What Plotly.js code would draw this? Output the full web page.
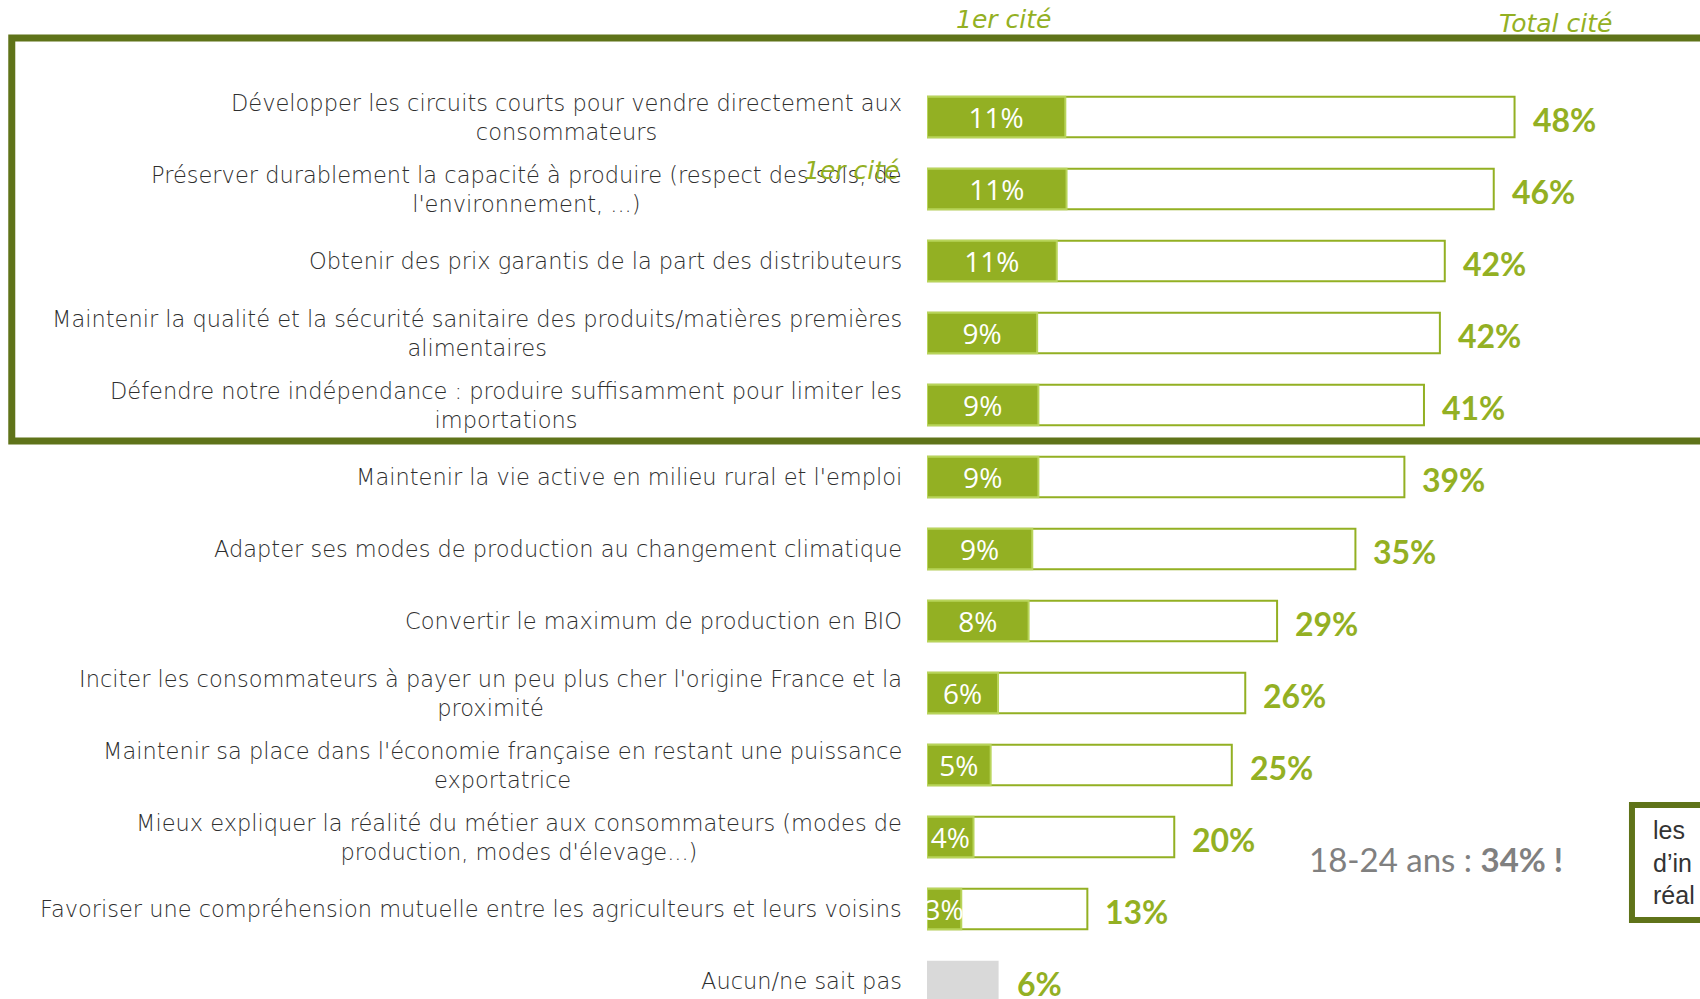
<!DOCTYPE html>
<html><head><meta charset="utf-8">
<script src="https://cdn.plot.ly/plotly-3.0.1.min.js"></script>
<style>html,body{margin:0;padding:0;background:#fff;overflow:hidden}#chart{width:1700px;height:999px}</style>
</head><body><div id="chart"></div>
<script>
const categories = [
  "Développer les circuits courts pour vendre directement aux<br>consommateurs",
  "Préserver durablement la capacité à produire (respect des sols, de<br>l'environnement, ...)",
  "Obtenir des prix garantis de la part des distributeurs",
  "Maintenir la qualité et la sécurité sanitaire des produits/matières premières<br>alimentaires",
  "Défendre notre indépendance : produire suffisamment pour limiter les<br>importations",
  "Maintenir la vie active en milieu rural et l'emploi",
  "Adapter ses modes de production au changement climatique",
  "Convertir le maximum de production en BIO",
  "Inciter les consommateurs à payer un peu plus cher l'origine France et la<br>proximité",
  "Maintenir sa place dans l'économie française en restant une puissance<br>exportatrice",
  "Mieux expliquer la réalité du métier aux consommateurs (modes de<br>production, modes d'élevage...)",
  "Favoriser une compréhension mutuelle entre les agriculteurs et leurs voisins",
  "Aucun/ne sait pas"
];
const premierCite = [11.3, 11.4, 10.6, 9.0, 9.1, 9.1, 8.6, 8.3, 5.8, 5.2, 3.8, 2.8, null];
const totalCite   = [48.0, 46.3, 42.3, 41.9, 40.6, 39.0, 35.0, 28.6, 26.0, 24.9, 20.2, 13.1, 5.85];
const headerFirst = "1er cité";
const headerTotal = "Total cité";
const noteText = "18-24 ans : <b>34% !</b>";
const boxText = "les<br>d’in<br>réal";

const GREEN = "#93b023", LIGHT = "#b8d45a", DARK = "#5f7319";
const n = categories.length;
const pct = v => Math.round(v) + "%";

const totalFill = totalCite.map((v, i) => i === n - 1 ? "#d9d9d9" : "#ffffff");
const totalLine = totalCite.map((v, i) => i === n - 1 ? "rgba(0,0,0,0)" : GREEN);

const traces = [
  {
    type: "bar", orientation: "h", y: categories, x: totalCite, width: 0.56,
    marker: {color: totalFill, line: {color: totalLine, width: 2}},
    hoverinfo: "skip", showlegend: false
  },
  {
    type: "bar", orientation: "h", y: categories, x: premierCite, width: 0.56,
    marker: {color: GREEN, line: {color: LIGHT, width: 2}},
    text: premierCite.map(v => v == null ? "" : pct(v)),
    textposition: "inside", insidetextanchor: "middle", textangle: 0,
    constraintext: "none",
    insidetextfont: {family: "Open Sans, sans-serif", size: 28, color: "#ffffff"},
    hoverinfo: "skip", showlegend: false
  }
];

const LABEL_FONT = {family: "DejaVu Sans, sans-serif", size: 22.5, weight: 200, color: "#2e2e2e"};

const annotations = [];
categories.forEach((c, i) => {
  annotations.push({
    xref: "paper", yref: "y", x: 0, y: c, xshift: -23, xanchor: "right", yanchor: "middle",
    align: "center", text: c, showarrow: false, font: LABEL_FONT
  });
  annotations.push({
    xref: "x", yref: "y", x: totalCite[i], y: c, xshift: 16, yshift: -2, xanchor: "left", yanchor: "middle",
    text: "<b>" + pct(totalCite[i]) + "</b>", showarrow: false,
    font: {family: "Lato, sans-serif", size: 32, color: GREEN}
  });
});
annotations.push(
  {xref: "paper", yref: "paper", x: 0.0996, y: 0.98, xanchor: "center", yanchor: "middle",
   text: "<i>" + headerFirst + "</i>", showarrow: false,
   font: {family: "DejaVu Sans, sans-serif", size: 25, weight: 200, color: GREEN}},
  {xref: "paper", yref: "paper", x: 0.8137, y: 0.976, xanchor: "center", yanchor: "middle",
   text: "<i>" + headerTotal + "</i>", showarrow: false,
   font: {family: "DejaVu Sans, sans-serif", size: 25, weight: 200, color: GREEN}},
  {xref: "paper", yref: "paper", x: -0.098, y: 0.829, xanchor: "center", yanchor: "middle",
   text: "<i>" + headerFirst + "</i>", showarrow: false,
   font: {family: "DejaVu Sans, sans-serif", size: 25, weight: 200, color: GREEN}},
  {xref: "paper", yref: "paper", x: 0.6585, y: 0.140, xanchor: "center", yanchor: "middle",
   text: noteText, showarrow: false,
   font: {family: "Lato, sans-serif", size: 33, color: "#808080"}},
  {xref: "paper", yref: "paper", x: 0.937, y: 0.137, xanchor: "left", yanchor: "middle",
   align: "left", text: boxText, showarrow: false,
   font: {family: "Liberation Sans, Arial, sans-serif", size: 25, color: "#333333"}}
);

const shapes = [
  {type: "rect", xref: "paper", yref: "paper", x0: -1.184, x1: 1.1, y0: 1 - 441/999, y1: 1 - 38/999,
   line: {color: DARK, width: 7}, fillcolor: "rgba(0,0,0,0)", layer: "above"},
  {type: "rect", xref: "paper", yref: "paper", x0: 0.912, x1: 1.1, y0: 1 - 920/999, y1: 1 - 805/999,
   line: {color: DARK, width: 6}, fillcolor: "rgba(0,0,0,0)", layer: "above"}
];

const layout = {
  width: 1700, height: 999,
  margin: {l: 927, r: 0, t: 0, b: 0},
  paper_bgcolor: "#ffffff", plot_bgcolor: "#ffffff",
  barmode: "overlay",
  xaxis: {range: [0, 63.15], visible: false, fixedrange: true},
  yaxis: {type: "category", categoryorder: "array", categoryarray: categories,
          range: [12.25, -1.625], visible: false, fixedrange: true},
  annotations: annotations, shapes: shapes, showlegend: false
};

Plotly.newPlot("chart", traces, layout, {displayModeBar: false, staticPlot: true});
</script></body></html>
